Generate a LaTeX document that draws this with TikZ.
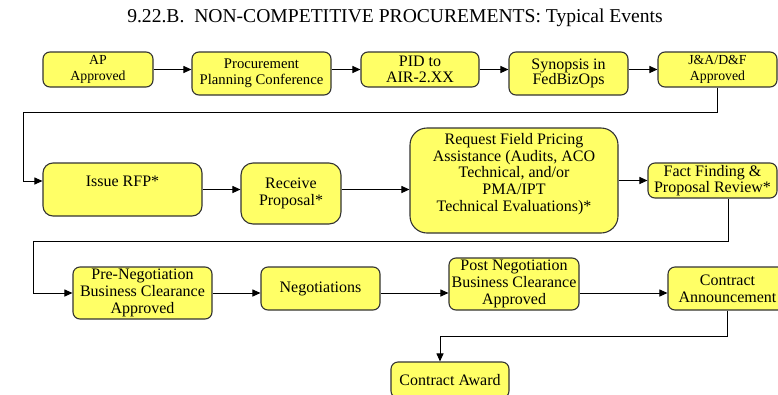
\documentclass[tikz,border=0pt]{standalone}
\usepackage{fontspec}
\setmainfont{Liberation Serif}
\usepackage{tikz}
\usetikzlibrary{arrows.meta}
\usepackage{xcolor}
\definecolor{evfill}{HTML}{FFFF66}
\definecolor{evline}{HTML}{333333}

\begin{document}
\begin{tikzpicture}[x=1pt, y=-1pt,
		event/.style={draw=evline, fill=evfill, line width=1.1pt, rounded corners=7pt, align=center, inner sep=0pt, font=\fontsize{16}{16.7}\selectfont},
		flow/.style={color=black, line width=1pt, -{Triangle[length=8pt,width=7pt]}}]
				\useasboundingbox (0,0) rectangle (778,394);
				\node[anchor=base, font=\fontsize{19.6}{21}\selectfont] (title) at (395,22) {9.22.B.\ \ NON-COMPETITIVE PROCUREMENTS: Typical Events};
				\node[event, minimum width=110pt, minimum height=35pt, font=\fontsize{13.8}{16}\selectfont] (ap) at (98,69.5) {AP\\Approved};
				\node[event, minimum width=139pt, minimum height=43pt, font=\fontsize{14.7}{15.5}\selectfont] (ppc) at (261.5,73.5) {Procurement\\Planning Conference};
				\node[event, minimum width=118pt, minimum height=35pt] (pid) at (420,69.5) {PID to\\AIR-2.XX};
				\node[event, minimum width=119pt, minimum height=43pt, font=\fontsize{16}{15.5}\selectfont] (syn) at (568.5,73.5) {Synopsis in\\FedBizOps};
				\node[event, minimum width=119pt, minimum height=35pt, font=\fontsize{13.8}{16}\selectfont] (ja) at (717.5,69.5) {J\&A/D\&F\\Approved};
				\node[event, minimum width=159pt, minimum height=53pt, rounded corners=10pt] (rfp) at (122.5,189.5) {Issue RFP*\\\mbox{}};
				\node[event, minimum width=100pt, minimum height=61pt, rounded corners=12pt] (rcv) at (291,193.5) {Receive\\Proposal*};
				\node[event, minimum width=208pt, minimum height=105pt, rounded corners=17pt] (req) at (514,180.5) {Request Field Pricing\\Assistance (Audits, ACO\\Technical, and/or\\PMA/IPT\\Technical Evaluations)*\\\mbox{}};
				\node[event, minimum width=129pt, minimum height=35pt] (ff) at (712.5,180.5) {Fact Finding \&\\Proposal Review*};
				\node[event, minimum width=139pt, minimum height=52pt] (pre) at (142.5,293) {Pre-Negotiation\\Business Clearance\\Approved};
				\node[event, minimum width=119pt, minimum height=43pt] (neg) at (320.5,288.5) {Negotiations};
				\node[event, minimum width=130pt, minimum height=52pt] (post) at (514,284) {Post Negotiation\\Business Clearance\\Approved};
				\node[event, minimum width=119pt, minimum height=43pt] (ann) at (727.5,288.5) {Contract\\Announcement};
				\node[event, minimum width=118pt, minimum height=36pt] (award) at (450,380) {Contract Award};
				\coordinate (turnA) at (23,112);
				\coordinate (turnB) at (33,241);
				\draw[flow] (ap.east) -- (ap.east -| ppc.west);
				\draw[flow] (ap.east -| ppc.east) -- (pid.west);
				\draw[flow] (pid.east) -- (pid.east -| syn.west);
				\draw[flow] (pid.east -| syn.east) -- (ja.west);
				\draw[flow] (ja.south) |- (turnA) |- ([yshift=8.5pt]rfp.west);
				\draw[flow] (rfp.east) -- (rfp.east -| rcv.west);
				\draw[flow] (rfp.east -| rcv.east) -- (rfp.east -| req.west);
				\draw[flow] (req.east) -- (ff.west);
				\draw[flow] ([xshift=15.5pt]ff.south) |- (turnB) |- (pre.west);
				\draw[flow] (pre.east) -- (pre.east -| neg.west);
				\draw[flow] (pre.east -| neg.east) -- (pre.east -| post.west);
				\draw[flow] (pre.east -| post.east) -- (pre.east -| ann.west);
				\draw[flow] (ann.south) -- ++(0,26) -| ([xshift=-10pt]award.north);
			\end{tikzpicture}
\end{document}
